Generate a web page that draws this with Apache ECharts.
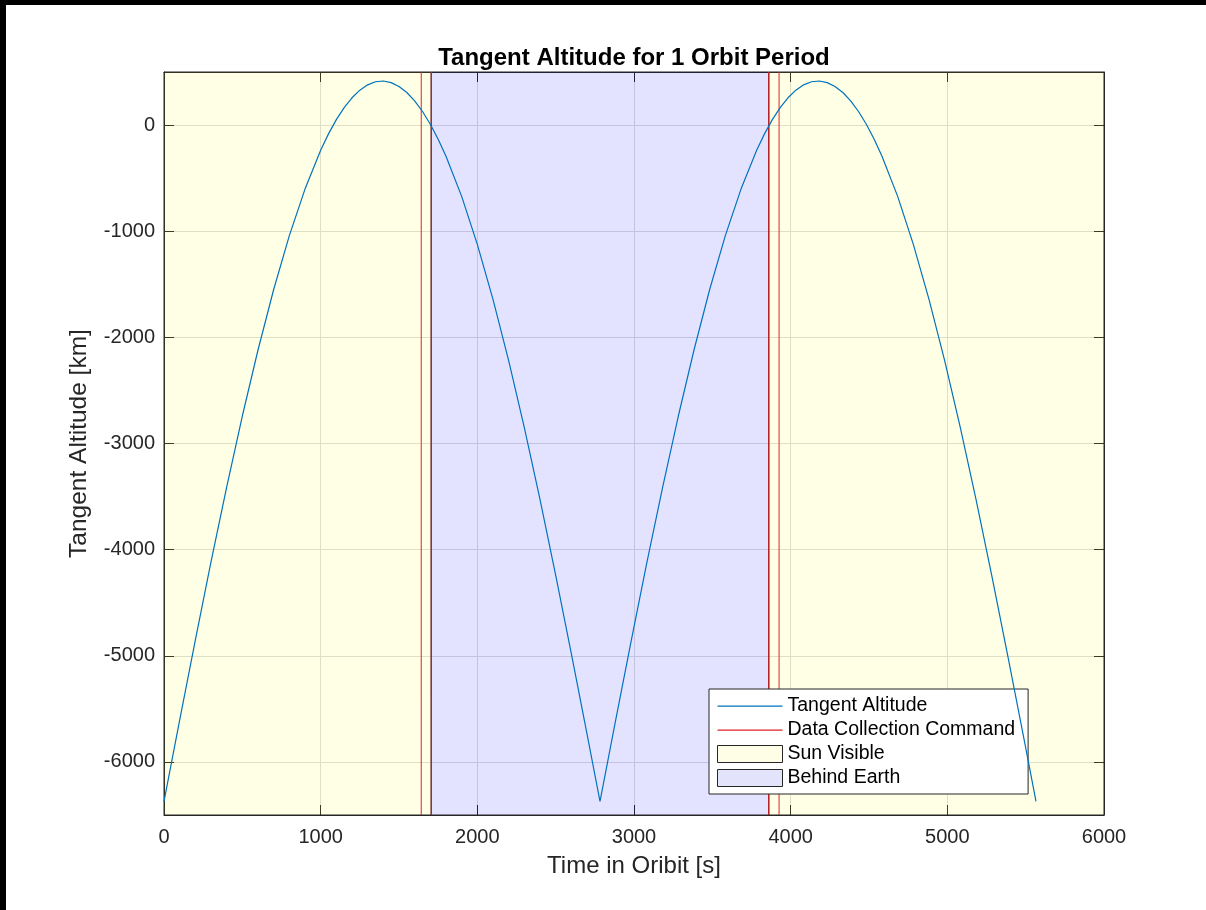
<!DOCTYPE html>
<html>
<head>
<meta charset="utf-8">
<title>Tangent Altitude for 1 Orbit Period</title>
<script src="https://cdn.jsdelivr.net/npm/echarts@6/dist/echarts.min.js"></script>
<style>
  html, body { margin: 0; padding: 0; background: #fff; }
  #chart { position: absolute; left: 0; top: 0; width: 1206px; height: 910px; background: #fff; }
  .edge { position: absolute; background: #000; }
</style>
</head>
<body>
<div id="chart"></div>
<div class="edge" style="left:0;top:0;width:1206px;height:5px"></div>
<div class="edge" style="left:0;top:0;width:6px;height:910px"></div>
<script>
// time in orbit [s]
const timeS = [
  0, 100, 200, 300, 400, 500, 600, 700, 800, 900,
  1000, 1050, 1100, 1150, 1200, 1250, 1300, 1350, 1400, 1450, 1500, 1550, 1600, 1650, 1700, 1750, 1800,
  1900, 2000, 2100, 2200, 2300, 2400, 2500, 2600, 2700, 2783,
  2883, 2983, 3083, 3183, 3283, 3383, 3483, 3583, 3683,
  3783, 3833, 3883, 3933, 3983, 4033, 4083, 4133, 4183, 4233, 4283, 4333, 4383, 4433, 4483, 4533, 4583,
  4683, 4783, 4883, 4983, 5083, 5183, 5283, 5383, 5483, 5566
];
// tangent altitude [km]
const altitudeKm = [
  -6371, -5607, -4852, -4116, -3410, -2741, -2119, -1549, -1042, -603,
  -237, -83, 51, 164, 257, 329, 379, 408, 415, 400, 364, 307, 228, 128, 8, -133, -294,
  -672, -1124, -1642, -2220, -2851, -3527, -4240, -4979, -5736, -6371,
  -5607, -4852, -4116, -3410, -2741, -2119, -1549, -1042, -603,
  -237, -83, 51, 164, 257, 329, 379, 408, 415, 400, 364, 307, 228, 128, 8, -133, -294,
  -672, -1124, -1642, -2220, -2851, -3527, -4240, -4979, -5736, -6371
];
// data collection command times [s]
const commandTimes = [1642, 1706, 3860, 3926];
// shaded intervals [s]
const sunVisible = [[0, 1706], [3860, 6000]];
const behindEarth = [[1706, 3860]];
// axis range and ticks
const xRange = [0, 6000];
const yRange = [-6500, 500];
const yTicks = [-6000, -5000, -4000, -3000, -2000, -1000, 0];

const FONT = '"Liberation Sans", Arial, Helvetica, sans-serif';
const INK = '#262626';
const BLUE = '#0072bd';
const RED = '#e0202a';
// thin horizontal bar inside a 65x17 box, used as a line-style legend icon
const LINE_ICON = 'path://M0,0M65,17M0,8L65,8L65,9.2L0,9.2Z';

const chart = echarts.init(document.getElementById('chart'));

const axisLine = { show: true, onZero: false, lineStyle: { color: INK, width: 1 } };
const axisTick = { show: true, inside: true, length: 10, lineStyle: { color: INK, width: 1 } };

// red vertical command lines, one series each (shared legend entry)
const commandSeries = commandTimes.map(t => ({
  name: 'Data Collection Command',
  type: 'line',
  data: [[t, yRange[0]], [t, yRange[1]]],
  symbol: 'none',
  showSymbol: false,
  silent: true,
  itemStyle: { color: RED },
  lineStyle: { color: RED, width: 1 },
  z: 3
}));

chart.setOption({
  animation: false,
  graphic: [{
    type: 'text',
    x: 634,
    y: 58,
    style: {
      text: 'Tangent Altitude for 1 Orbit Period',
      align: 'center',
      verticalAlign: 'middle',
      fontFamily: FONT,
      fontSize: 24,
      fontWeight: 'bold',
      fill: '#000'
    }
  }],
  grid: { left: 164, top: 72, right: 102, bottom: 95 },
  legend: {
    orient: 'vertical',
    left: 709,
    top: 689,
    itemWidth: 65,
    itemHeight: 17,
    itemGap: 4,
    padding: [7, 13, 6, 8],
    backgroundColor: '#fff',
    borderColor: INK,
    borderWidth: 1,
    borderRadius: 0,
    selectedMode: false,
    textStyle: { fontFamily: FONT, fontSize: 19.5, color: '#000' },
    data: [
      { name: 'Tangent Altitude', icon: LINE_ICON, itemStyle: { color: BLUE, borderWidth: 0 } },
      { name: 'Data Collection Command', icon: LINE_ICON, itemStyle: { color: RED, borderWidth: 0 } },
      { name: 'Sun Visible', icon: 'rect', itemStyle: { color: '#fefee6', borderColor: INK, borderWidth: 1 } },
      { name: 'Behind Earth', icon: 'rect', itemStyle: { color: '#e3e3fc', borderColor: INK, borderWidth: 1 } }
    ]
  },
  xAxis: [
    {
      type: 'value', min: xRange[0], max: xRange[1], interval: 1000, position: 'bottom',
      name: 'Time in Oribit [s]', nameLocation: 'middle', nameGap: 39,
      nameTextStyle: { fontFamily: FONT, fontSize: 24, color: INK },
      axisLine: axisLine,
      axisTick: axisTick,
      axisLabel: { margin: 12, fontFamily: FONT, fontSize: 20, color: INK, formatter: v => String(v) },
      splitLine: { show: true, lineStyle: { color: '#dcdcdc', width: 1 } }
    },
    {
      type: 'value', min: xRange[0], max: xRange[1], interval: 1000, position: 'top',
      axisLine: axisLine,
      axisTick: axisTick,
      axisLabel: { show: false },
      splitLine: { show: false }
    }
  ],
  yAxis: [
    {
      type: 'value', min: yRange[0], max: yRange[1], position: 'left',
      name: 'Tangent Altitude [km]', nameLocation: 'middle', nameGap: 72,
      nameTextStyle: { fontFamily: FONT, fontSize: 24.5, color: INK },
      axisLine: axisLine,
      axisTick: Object.assign({ customValues: yTicks }, axisTick),
      axisLabel: { customValues: yTicks, margin: 9, fontFamily: FONT, fontSize: 20, color: INK, formatter: v => String(v) },
      splitLine: { show: true, lineStyle: { color: '#dcdcdc', width: 1 } }
    },
    {
      type: 'value', min: yRange[0], max: yRange[1], position: 'right',
      axisLine: axisLine,
      axisTick: Object.assign({ customValues: yTicks }, axisTick),
      axisLabel: { show: false, customValues: yTicks },
      splitLine: { show: false }
    }
  ],
  series: [
    {
      name: 'Sun Visible',
      type: 'line',
      data: [],
      itemStyle: { color: '#fefee6' },
      z: 1,
      markArea: {
        silent: true,
        itemStyle: { color: 'rgba(255,255,0,0.1)', borderColor: INK, borderWidth: 1 },
        data: sunVisible.map(([a, b]) => [{ xAxis: a }, { xAxis: b }])
      }
    },
    {
      name: 'Behind Earth',
      type: 'line',
      data: [],
      itemStyle: { color: '#e3e3fc' },
      z: 1,
      markArea: {
        silent: true,
        itemStyle: { color: 'rgba(0,0,255,0.11)', borderColor: INK, borderWidth: 1 },
        data: behindEarth.map(([a, b]) => [{ xAxis: a }, { xAxis: b }])
      }
    },
    {
      name: 'Tangent Altitude',
      type: 'line',
      data: timeS.map((t, i) => [t, altitudeKm[i]]),
      symbol: 'none',
      showSymbol: false,
      itemStyle: { color: BLUE },
      lineStyle: { color: BLUE, width: 1.2 },
      z: 4
    }
  ].concat(commandSeries)
});
</script>
</body>
</html>
